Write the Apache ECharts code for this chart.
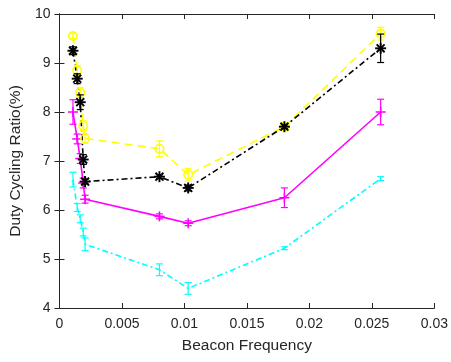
<!DOCTYPE html>
<html>
<head>
<meta charset="utf-8">
<script src="https://cdn.jsdelivr.net/npm/echarts@6/dist/echarts.min.js"></script>
<style>html,body{margin:0;padding:0;background:#fff}#c{width:451px;height:362px}</style>
</head>
<body>
<div id="c"></div>
<script>
const xVals = [0.00108, 0.00142, 0.00166, 0.00190, 0.00205, 0.0080, 0.0103, 0.0180, 0.0257];
const yellowVals = [9.55, 8.85, 8.40, 7.72, 7.46, 7.25, 6.72, 7.70, 9.60];
const yellowErr = [0.05, 0.10, 0.10, 0.10, 0.10, 0.16, 0.13, 0.05, 0.13];
const blackVals = [9.25, 8.68, 8.20, 7.03, 6.58, 6.68, 6.45, 7.70, 9.30];
const blackErr = [0.08, 0.10, 0.15, 0.10, 0.05, 0.04, 0.06, 0.04, 0.29];
const magentaVals = [8.00, 7.45, 7.05, 6.55, 6.22, 5.87, 5.73, 6.25, 8.00];
const magentaErr = [0.25, 0.10, 0.10, 0.10, 0.08, 0.05, 0.05, 0.20, 0.26];
const cyanVals = [6.62, 6.05, 5.82, 5.55, 5.30, 4.78, 4.40, 5.22, 6.64];
const cyanErr = [0.15, 0.08, 0.08, 0.08, 0.13, 0.12, 0.12, 0.03, 0.04];
const xTicks = [0, 0.005, 0.01, 0.015, 0.02, 0.025, 0.03];
const yTicks = [4, 5, 6, 7, 8, 9, 10];

const chart = echarts.init(document.getElementById('c'));
const FONT = '"Liberation Sans", Arial, sans-serif';
const AX = '#262626';

function pairs(v){ return xVals.map((x,i)=>[x, v[i]]); }
function errData(v, e){ return xVals.map((x,i)=>[x, v[i], e[i]]); }

function makeRender(color, marker){
  return function(params, api){
    const x = api.value(0), y = api.value(1), e = api.value(2);
    const p = api.coord([x, y]);
    const pt = api.coord([x, y + e]);
    const pb = api.coord([x, y - e]);
    const cw = 3.5, lw = 1.2;
    const st = {stroke: color, lineWidth: lw, fill: 'none'};
    const ch = [
      {type:'line', shape:{x1:p[0],y1:pt[1],x2:p[0],y2:pb[1]}, style:st},
      {type:'line', shape:{x1:p[0]-cw,y1:pt[1],x2:p[0]+cw,y2:pt[1]}, style:st},
      {type:'line', shape:{x1:p[0]-cw,y1:pb[1],x2:p[0]+cw,y2:pb[1]}, style:st}
    ];
    if (marker === 'circle') {
      ch.push({type:'circle', shape:{cx:p[0], cy:p[1], r:4.2}, style:{stroke: color, lineWidth: 1.6, fill: 'none'}});
    } else if (marker === 'star' || marker === 'plus') {
      const r = marker === 'star' ? 5.5 : 5;
      const ms = {stroke: color, lineWidth: marker === 'star' ? 1.9 : 1.5, fill: 'none'};
      ch.push({type:'line', shape:{x1:p[0]-r,y1:p[1],x2:p[0]+r,y2:p[1]}, style:ms});
      ch.push({type:'line', shape:{x1:p[0],y1:p[1]-r,x2:p[0],y2:p[1]+r}, style:ms});
      if (marker === 'star') {
        const d = r*0.72;
        ch.push({type:'line', shape:{x1:p[0]-d,y1:p[1]-d,x2:p[0]+d,y2:p[1]+d}, style:ms});
        ch.push({type:'line', shape:{x1:p[0]-d,y1:p[1]+d,x2:p[0]+d,y2:p[1]-d}, style:ms});
      }
    }
    return {type:'group', children: ch};
  };
}

function lineSeries(v, color, dash, z){
  return {type:'line', data: pairs(v), symbol:'none', z: z, animation:false,
    lineStyle:{color: color, width: 1.6, type: dash}};
}
function errSeries(v, e, color, marker, z){
  return {type:'custom', data: errData(v, e), renderItem: makeRender(color, marker), z: z, animation:false,
    encode:{x:0, y:1}};
}

const baseAxis = {
  axisLine:{show:true, lineStyle:{color:AX, width:1}},
  axisTick:{show:true, inside:true, length:5, lineStyle:{color:AX}},
  splitLine:{show:false},
};

chart.setOption({
  backgroundColor:'#fff',
  animation:false,
  grid:{left:57, right:13, top:14, bottom:54, containLabel:false},
  xAxis:[
    Object.assign({}, baseAxis, {type:'value', min:xTicks[0], max:xTicks[xTicks.length-1], interval:0.005,
      name:'Beacon Frequency', nameLocation:'middle', nameGap:30,
      nameTextStyle:{fontFamily:FONT, fontSize:15.5, color:AX},
      axisLabel:{fontFamily:FONT, fontSize:14, color:AX, margin:9,
        formatter: v => String(parseFloat(v.toFixed(3)))}}),
    Object.assign({}, baseAxis, {type:'value', position:'top', min:xTicks[0], max:xTicks[xTicks.length-1], interval:0.005,
      axisLabel:{show:false}})
  ],
  yAxis:[
    Object.assign({}, baseAxis, {type:'value', min:yTicks[0], max:yTicks[yTicks.length-1], interval:1,
      name:'Duty Cycling Ratio(%)', nameLocation:'middle', nameGap:28,
      nameTextStyle:{fontFamily:FONT, fontSize:15.5, color:AX},
      axisLabel:{fontFamily:FONT, fontSize:14, color:AX, margin:9}}),
    Object.assign({}, baseAxis, {type:'value', position:'right', min:yTicks[0], max:yTicks[yTicks.length-1], interval:1,
      axisLabel:{show:false}})
  ],
  series:[
    lineSeries(cyanVals, '#00ffff', [6,3,2,3], 2),
    lineSeries(magentaVals, '#ff00ff', 'solid', 2),
    lineSeries(yellowVals, '#ffff00', [8,5], 2),
    lineSeries(blackVals, '#000000', [6,3,2,3], 3),
    errSeries(cyanVals, cyanErr, '#00ffff', 'none', 4),
    errSeries(magentaVals, magentaErr, '#ff00ff', 'plus', 4),
    errSeries(yellowVals, yellowErr, '#ffff00', 'circle', 4),
    errSeries(blackVals, blackErr, '#000000', 'star', 5)
  ]
});
</script>
</body>
</html>
